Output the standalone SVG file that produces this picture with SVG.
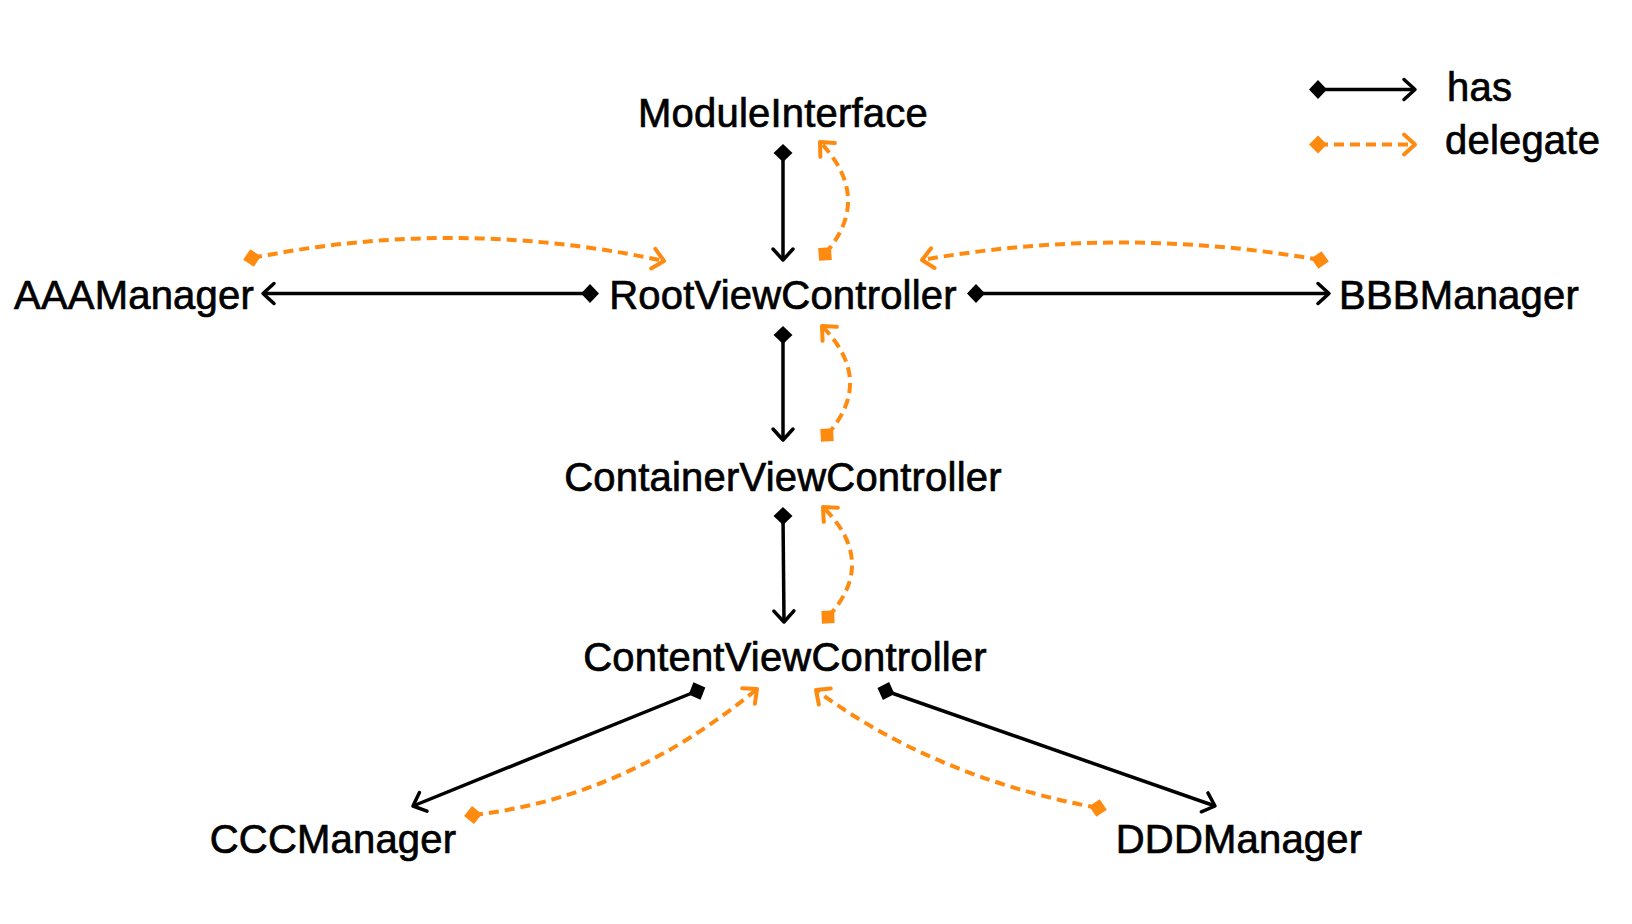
<svg xmlns="http://www.w3.org/2000/svg" width="1632" height="924" viewBox="0 0 1632 924">
<style>
.lbl{font-family:"Liberation Sans",Arial,Helvetica,sans-serif;font-size:40px;fill:#000;stroke:#000;stroke-width:0.7px;text-anchor:middle;letter-spacing:0.2px}
.lg{font-family:"Liberation Sans",Arial,Helvetica,sans-serif;font-size:40px;fill:#000;stroke:#000;stroke-width:0.7px;letter-spacing:0.2px}
.has{fill:none;stroke:#000;stroke-width:3.5;marker-start:url(#dB);marker-end:url(#aB)}
.del{fill:none;stroke:#FF8A10;stroke-width:4;stroke-dasharray:10 6;marker-start:url(#dO);marker-end:url(#aO)}
</style>
<defs>
<marker id="dB" viewBox="-12 -12 24 24" markerWidth="24" markerHeight="24" markerUnits="userSpaceOnUse" orient="auto" refX="0" refY="0">
<path d="M-9,0 L0,-9.5 L9,0 L0,9.5 Z" fill="#000"/>
</marker>
<marker id="dO" viewBox="-12 -12 24 24" markerWidth="24" markerHeight="24" markerUnits="userSpaceOnUse" orient="auto" refX="0" refY="0">
<path d="M-9,0 L0,-9 L9,0 L0,9 Z" fill="#FF8A10"/>
</marker>
<marker id="aB" viewBox="-16 -14 20 28" markerWidth="20" markerHeight="28" markerUnits="userSpaceOnUse" orient="auto" refX="0" refY="0">
<path d="M-11,-10 L0,0 L-11,10" fill="none" stroke="#000" stroke-width="3.5" stroke-linecap="round" stroke-linejoin="round"/>
</marker>
<marker id="aO" viewBox="-16 -14 20 28" markerWidth="20" markerHeight="28" markerUnits="userSpaceOnUse" orient="auto" refX="0" refY="0">
<path d="M-11,-10 L0,0 L-11,10" fill="none" stroke="#FF8A10" stroke-width="4" stroke-linecap="round" stroke-linejoin="round"/>
</marker>
</defs>
<rect width="1632" height="924" fill="#fff"/>
<g id="connectors">
<path class="has" d="M783,153 L783,260"/>
<path class="del" d="M825,254 Q873.5,198 820,142"/>
<path class="has" d="M590,293.5 L263,293.5"/>
<path class="del" d="M252,258 Q458,216.5 664,261"/>
<path class="has" d="M976,293.5 L1329,293.5"/>
<path class="del" d="M1320,260 Q1121,225 922,260"/>
<path class="has" d="M783,335 L783,440"/>
<path class="del" d="M827,435 Q875.5,380.5 822,326"/>
<path class="has" d="M783,516 L784,622"/>
<path class="del" d="M828,617 Q878.5,562 823,507"/>
<path class="has" d="M697,691 L413,806"/>
<path class="del" d="M473,815 Q625,798 757,689"/>
<path class="has" d="M886,691 L1215,806"/>
<path class="del" d="M1098,808 Q933,777 816,690"/>
</g>
<g id="legend">
<path class="has" d="M1318,89.5 L1415,89.5"/>
<text class="lg" x="1447" y="101">has</text>
<path class="del" d="M1318,144.5 L1415,144.5"/>
<text class="lg" x="1445" y="154">delegate</text>
</g>
<g id="ModuleInterface"><text class="lbl" x="783" y="127">ModuleInterface</text></g>
<g id="AAAManager"><text class="lbl" x="134" y="309">AAAManager</text></g>
<g id="RootViewController"><text class="lbl" x="783" y="309">RootViewController</text></g>
<g id="BBBManager"><text class="lbl" x="1459" y="309">BBBManager</text></g>
<g id="ContainerViewController"><text class="lbl" x="783" y="491">ContainerViewController</text></g>
<g id="ContentViewController"><text class="lbl" x="785" y="671">ContentViewController</text></g>
<g id="CCCManager"><text class="lbl" x="333" y="853">CCCManager</text></g>
<g id="DDDManager"><text class="lbl" x="1239" y="853">DDDManager</text></g>
</svg>
